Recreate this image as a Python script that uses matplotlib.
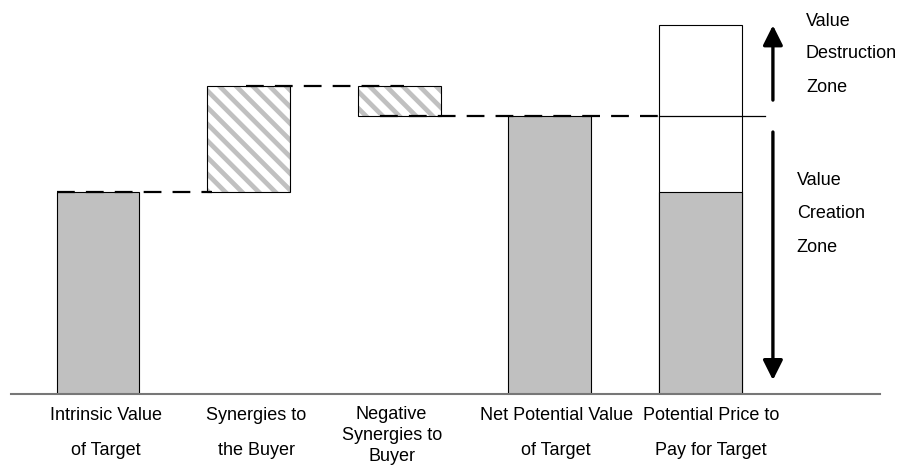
import matplotlib
matplotlib.use("Agg")
import matplotlib.pyplot as plt

plt.rcParams["font.family"] = ["Liberation Sans", "DejaVu Sans"]
plt.rcParams["hatch.linewidth"] = 3.4
plt.rcParams["hatch.color"] = "#c0c0c0"

# Waterfall of acquisition value
categories = ["Intrinsic Value\nof Target",
              "Synergies to\nthe Buyer",
              "Negative\nSynergies to\nBuyer",
              "Net Potential Value\nof Target",
              "Potential Price to\nPay for Target"]
intrinsic_value = 100.0
synergies = 52.5
negative_synergies = -15.0
net_potential = intrinsic_value + synergies + negative_synergies
price_ceiling = 182.5

GRAY = "#c0c0c0"
BAR_W = 0.55

fig = plt.figure(figsize=(9, 4.66), dpi=100)
ax = fig.add_axes([0, 72 / 466, 1, 394 / 466])
ax.set_xlim(-0.651, 5.326)
ax.set_ylim(0, 195.05)
ax.axis("off")

x = list(range(len(categories)))

# solid grey columns
ax.bar(x[0], intrinsic_value, width=BAR_W, color=GRAY, edgecolor="black", lw=0.8, zorder=2)
ax.bar(x[3], net_potential, width=BAR_W, color=GRAY, edgecolor="black", lw=0.8, zorder=2)

# floating hatched steps
for xi, bottom, height in [(x[1], intrinsic_value, synergies),
                           (x[2], intrinsic_value + synergies + negative_synergies, -negative_synergies)]:
    ax.bar(xi, height, bottom=bottom, width=BAR_W, color="white",
           hatch="\\\\", edgecolor=GRAY, lw=0, zorder=2)
    ax.bar(xi, height, bottom=bottom, width=BAR_W, fill=False,
           edgecolor="black", lw=0.8, zorder=3)

# price column: creation zone up to intrinsic value, empty above
ax.bar(x[4], price_ceiling, width=BAR_W, color="white", edgecolor="black", lw=0.8, zorder=2)
ax.bar(x[4], intrinsic_value, width=BAR_W, color=GRAY, edgecolor="black", lw=0.8, zorder=3)

# connectors
dash = dict(color="black", lw=1.6, ls=(0, (8, 5)), zorder=4)
ax.plot([x[0] - 0.27, x[1] - 0.24], [intrinsic_value] * 2, **dash)
ax.plot([x[1] - 0.02, x[2] + 0.03], [intrinsic_value + synergies] * 2, **dash)
ax.plot([x[2] - 0.13, x[4] - 0.235], [net_potential] * 2, **dash)
ax.plot([x[4] - 0.275, x[4] + 0.43], [net_potential] * 2, color="black", lw=0.9, zorder=4)

# baseline
ax.plot([-0.58, 5.19], [0, 0], color="#777777", lw=1.5, zorder=5, clip_on=False)

# zone arrows
arrow_x = 4.482
arrow = dict(arrowstyle="-|>,head_length=0.6,head_width=0.3", color="black",
             lw=2.4, mutation_scale=20, shrinkA=0, shrinkB=0)
ax.annotate("", xy=(arrow_x, price_ceiling), xytext=(arrow_x, 145.5), arrowprops=arrow)
ax.annotate("", xy=(arrow_x, 6.9), xytext=(arrow_x, 129.7), arrowprops=arrow)

# zone labels
for txt, y in [("Value", 182.2), ("Destruction", 166.3), ("Zone", 149.5)]:
    ax.text(4.701, y, txt, fontsize=13, va="baseline", ha="left")
for txt, y in [("Value", 103.5), ("Creation", 87.1), ("Zone", 70.3)]:
    ax.text(4.641, y, txt, fontsize=13, va="baseline", ha="left")

# category labels below baseline
label_dx = [7.5, 7.5, -7.5, 6.5, 10.5]
for xi, label, dx in zip(x, categories, label_dx):
    lines = label.split("\n")
    start, step = (25, 21) if len(lines) > 2 else (26, 35)
    for k, line in enumerate(lines):
        ax.annotate(line, xy=(xi, 0), xytext=(dx * 0.72, -(start + k * step) * 0.72),
                    textcoords="offset points", ha="center", va="baseline",
                    fontsize=13, annotation_clip=False)

fig.savefig("out.png", dpi=100)
